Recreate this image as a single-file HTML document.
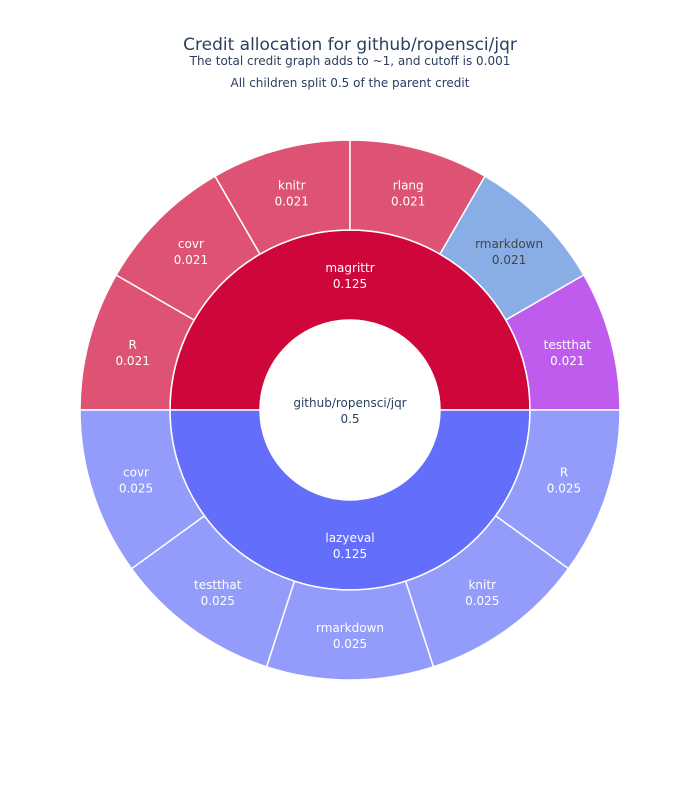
<!DOCTYPE html>
<html><head><meta charset="utf-8"><style>
body{margin:0;background:#fff;font-family:"Liberation Sans","DejaVu Sans",sans-serif}
svg text{font-family:"DejaVu Sans","Liberation Sans",sans-serif}
</style></head><body>
<svg id="chart" width="700" height="800" xmlns="http://www.w3.org/2000/svg">
<rect width="700" height="800" fill="#fff"/>
<text x="350" y="50" text-anchor="middle" font-size="17" fill="#2a3f5f">Credit allocation for github/ropensci/jqr</text>
<text x="350" y="65" text-anchor="middle" font-size="12" fill="#2a3f5f">The total credit graph adds to ~1, and cutoff is 0.001</text>
<text x="350" y="87" text-anchor="middle" font-size="12" fill="#2a3f5f">All children split 0.5 of the parent credit</text>
<g id="marks"></g>
</svg>
<script>
const rootLabel = "github/ropensci/jqr";
const rootValue = 0.5;
const parentLabels = ["magrittr", "lazyeval"];
const parentValues = [0.125, 0.125];
const magrittrChildren = ["R", "covr", "knitr", "rlang", "rmarkdown", "testthat"];
const magrittrValues = [0.021, 0.021, 0.021, 0.021, 0.021, 0.021];
const lazyevalChildren = ["R", "knitr", "rmarkdown", "testthat", "covr"];
const lazyevalValues = [0.025, 0.025, 0.025, 0.025, 0.025];

const cx = 350, cy = 410, r0 = 90, r1 = 180, r2 = 270;
const parentColors = ["#cf063a", "#636efa"];
const childColors = ["#de5273", "#939bfb"];
const specialColors = {"magrittr/rmarkdown": "#89aee6", "magrittr/testthat": "#bf5cee"};
const NS = "http://www.w3.org/2000/svg";
const g = document.getElementById("marks");

function pt(r, deg){const a = deg*Math.PI/180; return [cx + r*Math.cos(a), cy - r*Math.sin(a)];}
function arcPath(ri, ro, a0, a1){
  const large = (a0 - a1) > 180 ? 1 : 0;
  const p1 = pt(ro, a0), p2 = pt(ro, a1), p3 = pt(ri, a1), p4 = pt(ri, a0);
  return `M${p1[0]},${p1[1]} A${ro},${ro} 0 ${large} 1 ${p2[0]},${p2[1]} L${p3[0]},${p3[1]} A${ri},${ri} 0 ${large} 0 ${p4[0]},${p4[1]} Z`;
}
function label(x, y, lines, color, name){
  const t = document.createElementNS(NS, "text");
  
  
  t.setAttribute("x", x); t.setAttribute("text-anchor", "middle");
  t.setAttribute("font-size", "12"); t.setAttribute("fill", color);
  lines.forEach((s, i) => {
    const ts = document.createElementNS(NS, "tspan");
    ts.setAttribute("x", x); ts.setAttribute("y", y + 5 + i*16 - (lines.length-1)*8);
    ts.textContent = s; t.appendChild(ts);
  });
  g.appendChild(t);
}
function seg(ri, ro, a0, a1, fill, name){
  const p = document.createElementNS(NS, "path");
  
  
  p.setAttribute("d", arcPath(ri, ro, a0, a1));
  p.setAttribute("fill", fill); p.setAttribute("stroke", "#fff"); p.setAttribute("stroke-width", "1.5");
  g.appendChild(p);
}

const totalParent = parentValues.reduce((a,b)=>a+b,0);
const kids = [[magrittrChildren, magrittrValues], [lazyevalChildren, lazyevalValues]];
let ang = 180;
parentLabels.forEach((pl, i) => {
  const span = parentValues[i]/totalParent*360;
  const a0 = ang, a1 = ang - span;
  seg(r0, r1, a0, a1, parentColors[i], "segment-" + pl);
  const [names, vals] = kids[i];
  const tot = vals.reduce((a,b)=>a+b,0);
  let ca = a0;
  names.forEach((n, j) => {
    const s = vals[j]/tot*span;
    const key = pl + "/" + n;
    const col = specialColors[key] || childColors[i];
    seg(r1, r2, ca, ca - s, col, "segment-" + pl + "-" + n);
    const m = pt(225, ca - s/2);
    label(m[0], m[1], [n, vals[j].toFixed(3)], key === "magrittr/rmarkdown" ? "#444" : "#fff", "label-" + pl + "-" + n);
    ca -= s;
  });
  const m = pt(135, (a0 + a1)/2);
  label(m[0], m[1], [pl, parentValues[i].toFixed(3)], "#fff", "label-" + pl);
  ang = a1;
});
const c = document.createElementNS(NS, "circle");


c.setAttribute("cx", cx); c.setAttribute("cy", cy); c.setAttribute("r", r0);
c.setAttribute("fill", "#fff"); c.setAttribute("stroke", "#fff");
g.appendChild(c);
label(cx, cy, [rootLabel, String(rootValue)], "#2a3f5f", "label-root");
</script>
</body></html>
